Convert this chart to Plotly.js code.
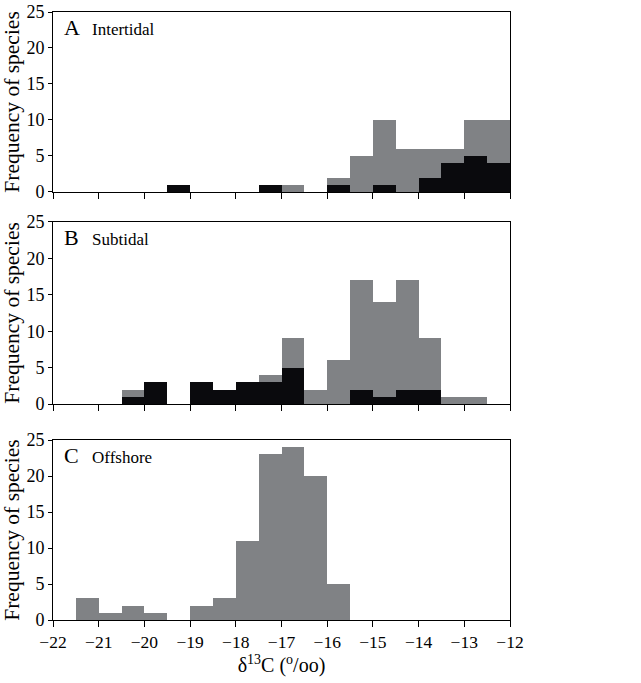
<!DOCTYPE html>
<html>
<head>
<meta charset="utf-8">
<script src="https://cdn.plot.ly/plotly-3.0.1.min.js"></script>
<style>html,body{margin:0;padding:0;background:#fff;}#chart{width:641px;height:683px;}</style>
</head>
<body>
<div id="chart"></div>
<script>
// Bin centres (bin width 0.5, from -22 to -12)
const binCenters = [-21.75,-21.25,-20.75,-20.25,-19.75,-19.25,-18.75,-18.25,-17.75,-17.25,
                    -16.75,-16.25,-15.75,-15.25,-14.75,-14.25,-13.75,-13.25,-12.75,-12.25];
// A Intertidal
const intertidalAll   = [0,0,0,0,0,1,0,0,0,1, 1,0,2,5,10,6,6,6,10,10];
const intertidalBlack = [0,0,0,0,0,1,0,0,0,1, 0,0,1,0,1,0,2,4,5,4];
// B Subtidal
const subtidalAll   = [0,0,0,2,3,0,3,2,3,4, 9,2,6,17,14,17,9,1,1,0];
const subtidalBlack = [0,0,0,1,3,0,3,2,3,3, 5,0,0,2,1,2,2,0,0,0];
// C Offshore
const offshoreAll = [0,3,1,2,1,0,2,3,11,23, 24,20,5,0,0,0,0,0,0,0];
const panelLabels = [["A","Intertidal"],["B","Subtidal"],["C","Offshore"]];
const yTicks = [0,5,10,15,20,25];
const xTicks = [-22,-21,-20,-19,-18,-17,-16,-15,-14,-13,-12];

const GRAY = '#808285', BLACK = '#0a0a0d';
const F = 'Liberation Serif, Times New Roman, serif';

function bar(y, color, xa, ya) {
  return {type:'bar', x:binCenters, y:y, width:0.5, xaxis:xa, yaxis:ya,
          marker:{color:color, line:{width:0}}, hoverinfo:'skip', showlegend:false};
}
const data = [
  bar(intertidalAll, GRAY, 'x', 'y'),
  bar(intertidalBlack, BLACK, 'x', 'y'),
  bar(subtidalAll, GRAY, 'x2', 'y2'),
  bar(subtidalBlack, BLACK, 'x2', 'y2'),
  bar(offshoreAll, GRAY, 'x3', 'y3')
];

function xax(anchor, labels) {
  return {range:[-22,-12], anchor:anchor, tickvals:xTicks, showticklabels:labels,
          ticks:'outside', ticklen:6, tickwidth:1, tickcolor:'#000',
          showline:true, linecolor:'#000', linewidth:1, mirror:true,
          showgrid:false, zeroline:false, fixedrange:true,
          tickfont:{family:F, size:17.5, color:'#000'}};
}
function yax(anchor, domain) {
  return {range:[0,25], anchor:anchor, domain:domain, tickvals:yTicks,
          ticks:'outside', ticklen:4, tickwidth:1, tickcolor:'#000',
          showline:true, linecolor:'#000', linewidth:1, mirror:true,
          showgrid:false, zeroline:false, fixedrange:true,
          tickfont:{family:F, size:18, color:'#000'},
          title:{text:'Frequency of species', font:{family:F, size:21.5, color:'#000'}, standoff:5}};
}
const domains = [[0.704,1],[0.355,0.655],[0,0.296]];
const layout = {
  width:641, height:683,
  margin:{l:53, r:131, t:12, b:63},
  paper_bgcolor:'#fff', plot_bgcolor:'#fff',
  barmode:'overlay', bargap:0,
  xaxis: xax('y', false),
  yaxis: yax('x', domains[0]),
  xaxis2: xax('y2', false),
  yaxis2: yax('x2', domains[1]),
  xaxis3: Object.assign(xax('y3', true), {title:{text:'δ<sup>13</sup>C (<sup>o</sup>/oo)', font:{family:F, size:20, color:'#000'}, standoff:3}}),
  yaxis3: yax('x3', domains[2]),
  annotations: []
};
const refs = [['x','y'],['x2','y2'],['x3','y3']];
panelLabels.forEach((p, i) => {
  layout.annotations.push({xref:refs[i][0]+' domain', yref:refs[i][1]+' domain', x:0.02, y:0.915,
    xanchor:'left', yanchor:'middle', showarrow:false,
    text:p[0], font:{family:F, size:22, color:'#000'}});
  layout.annotations.push({xref:refs[i][0]+' domain', yref:refs[i][1]+' domain', x:0.08, y:0.905,
    xanchor:'left', yanchor:'middle', showarrow:false,
    text:p[1], font:{family:F, size:17, color:'#000'}});
});
Plotly.newPlot('chart', data, layout, {displayModeBar:false, staticPlot:true});
</script>
</body>
</html>
